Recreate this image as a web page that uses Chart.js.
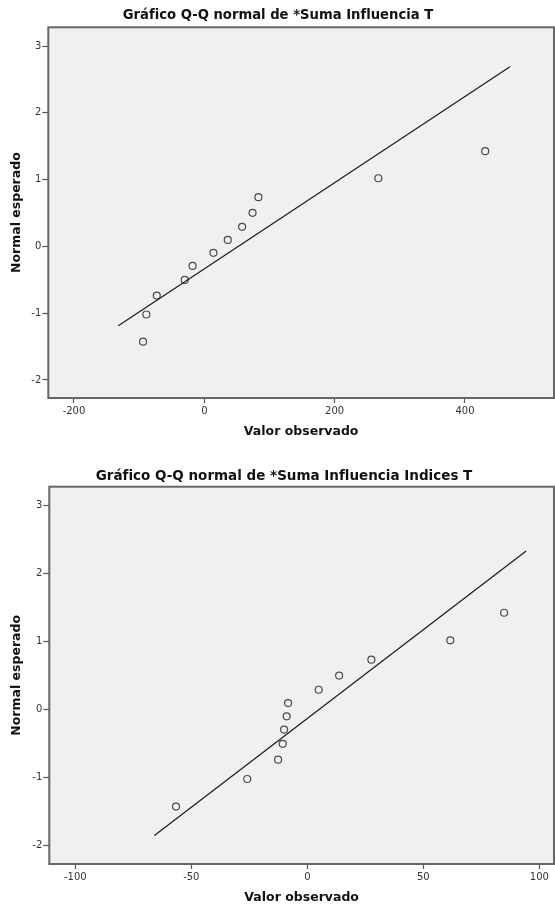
<!DOCTYPE html>
<html lang="es">
<head>
<meta charset="utf-8">
<title>Gráficos Q-Q normal</title>
<script src="https://cdn.jsdelivr.net/npm/chart.js@4.4.1/dist/chart.umd.min.js"></script>
<style>
  html, body { margin: 0; padding: 0; background: #fff; }
  body { width: 555px; height: 906px; position: relative; overflow: hidden; }
  canvas { position: absolute; left: 0; }
  #qqInfluencia { top: 0; }
  #qqIndices { top: 460px; }
</style>
</head>
<body>
<canvas id="qqInfluencia" width="555" height="453"></canvas>
<canvas id="qqIndices" width="555" height="446"></canvas>
<script>
// valores normales esperados (12 casos)
const normalEsperado = [-1.426, -1.020, -0.736, -0.502, -0.293, -0.097, 0.097, 0.293, 0.502, 0.736, 1.020, 1.426];

// *Suma Influencia T
const influenciaObservado = [-94, -89, -73, -30, -18, 14, 36, 58, 74, 83, 267, 431];
const influenciaLineaX = [-132, 469];
const influenciaLineaY = [-1.19, 2.69];
const influenciaTicksX = [-200, 0, 200, 400];

// *Suma Influencia Indices T
const indicesObservado = [-56.6, -25.9, -12.6, -10.6, -10.0, -8.9, -8.3, 4.9, 13.7, 27.6, 61.6, 84.8];
const indicesLineaX = [-65.9, 94.3];
const indicesLineaY = [-1.85, 2.335];
const indicesTicksX = [-100, -50, 0, 50, 100];

const ticksY = [-2, -1, 0, 1, 2, 3];

const FUENTE = "'DejaVu Sans', sans-serif";

// fondo gris del área de trazado, marco y título centrado a mano
const marcoQQ = {
    id: 'marcoQQ',
    beforeDraw(chart) {
        const { ctx, chartArea: a } = chart;
        ctx.save();
        ctx.fillStyle = '#f0f0f0';
        ctx.fillRect(a.left, a.top, a.right - a.left, a.bottom - a.top);
        ctx.restore();
    },
    afterDraw(chart, args, opts) {
        const { ctx, chartArea: a } = chart;
        ctx.save();
        ctx.strokeStyle = '#666';
        ctx.lineWidth = 2;
        ctx.strokeRect(a.left, a.top, a.right - a.left, a.bottom - a.top);
        ctx.fillStyle = '#111';
        ctx.font = 'bold ' + opts.tamano + 'px ' + FUENTE;
        ctx.textAlign = 'center';
        ctx.textBaseline = 'middle';
        ctx.fillText(opts.texto, opts.centroX, opts.centroY);
        ctx.restore();
    }
};

function crearGrafico(id, cfg) {
    const puntos = cfg.observado.map((x, i) => ({ x: x, y: normalEsperado[i] }));
    const linea = cfg.lineaX.map((x, i) => ({ x: x, y: cfg.lineaY[i] }));

    return new Chart(document.getElementById(id), {
        type: 'scatter',
        data: {
            datasets: [
                {
                    data: linea,
                    showLine: true,
                    borderColor: '#1a1a1a',
                    borderWidth: 1.2,
                    pointRadius: 0
                },
                {
                    data: puntos,
                    pointRadius: 3.5,
                    pointBorderWidth: 1.2,
                    pointBackgroundColor: 'rgba(0,0,0,0)',
                    pointBorderColor: '#4a4a4a'
                }
            ]
        },
        options: {
            responsive: false,
            animation: false,
            layout: {
                autoPadding: false,
                padding: { top: cfg.arriba, right: 1, left: 0, bottom: 0 }
            },
            plugins: {
                legend: { display: false },
                tooltip: { enabled: false },
                title: { display: false },
                marcoQQ: { texto: cfg.titulo, tamano: cfg.tamanoTitulo, centroX: cfg.tituloX, centroY: 16 }
            },
            scales: {
                x: {
                    type: 'linear',
                    min: cfg.xMin,
                    max: cfg.xMax,
                    afterBuildTicks: s => { s.ticks = cfg.ticksX.map(v => ({ value: v })); },
                    afterFit: s => { s.height = cfg.altoX; },
                    grid: { drawOnChartArea: false, drawTicks: true, tickLength: 5, tickColor: '#555', tickWidth: 1.2 },
                    border: { display: false },
                    ticks: {
                        padding: 2,
                        color: '#333',
                        font: { family: FUENTE, size: 10 },
                        callback: v => String(v)
                    },
                    title: {
                        display: true,
                        text: 'Valor observado',
                        color: '#111',
                        font: { family: FUENTE, size: 12.5, weight: 'bold' },
                        padding: { top: 0, bottom: cfg.padTituloX }
                    }
                },
                y: {
                    type: 'linear',
                    min: -2.27,
                    max: 3.28,
                    afterBuildTicks: s => { s.ticks = ticksY.map(v => ({ value: v })); },
                    afterFit: s => { s.width = cfg.anchoY; },
                    grid: { drawOnChartArea: false, drawTicks: true, tickLength: 6, tickColor: '#555', tickWidth: 1.2 },
                    border: { display: false },
                    ticks: {
                        padding: 1,
                        color: '#333',
                        font: { family: FUENTE, size: 10 },
                        callback: v => String(v)
                    },
                    title: {
                        display: true,
                        text: 'Normal esperado',
                        color: '#111',
                        font: { family: FUENTE, size: 12.5, weight: 'bold' },
                        padding: { top: 9, bottom: 0 }
                    }
                }
            }
        },
        plugins: [marcoQQ]
    });
}

crearGrafico('qqInfluencia', {
    titulo: 'Gráfico Q-Q normal de *Suma Influencia T',
    tamanoTitulo: 13.2,
    tituloX: 278,
    observado: influenciaObservado,
    lineaX: influenciaLineaX,
    lineaY: influenciaLineaY,
    ticksX: influenciaTicksX,
    xMin: -239.4,
    xMax: 536.6,
    arriba: 27.3,
    anchoY: 48.3,
    altoX: 55,
    padTituloX: 13.5
});

crearGrafico('qqIndices', {
    titulo: 'Gráfico Q-Q normal de *Suma Influencia Indices T',
    tamanoTitulo: 13.5,
    tituloX: 284,
    observado: indicesObservado,
    lineaX: indicesLineaX,
    lineaY: indicesLineaY,
    ticksX: indicesTicksX,
    xMin: -111.2,
    xMax: 106.3,
    arriba: 26.7,
    anchoY: 49.3,
    altoX: 42,
    padTituloX: 1.2
});
</script>
</body>
</html>
